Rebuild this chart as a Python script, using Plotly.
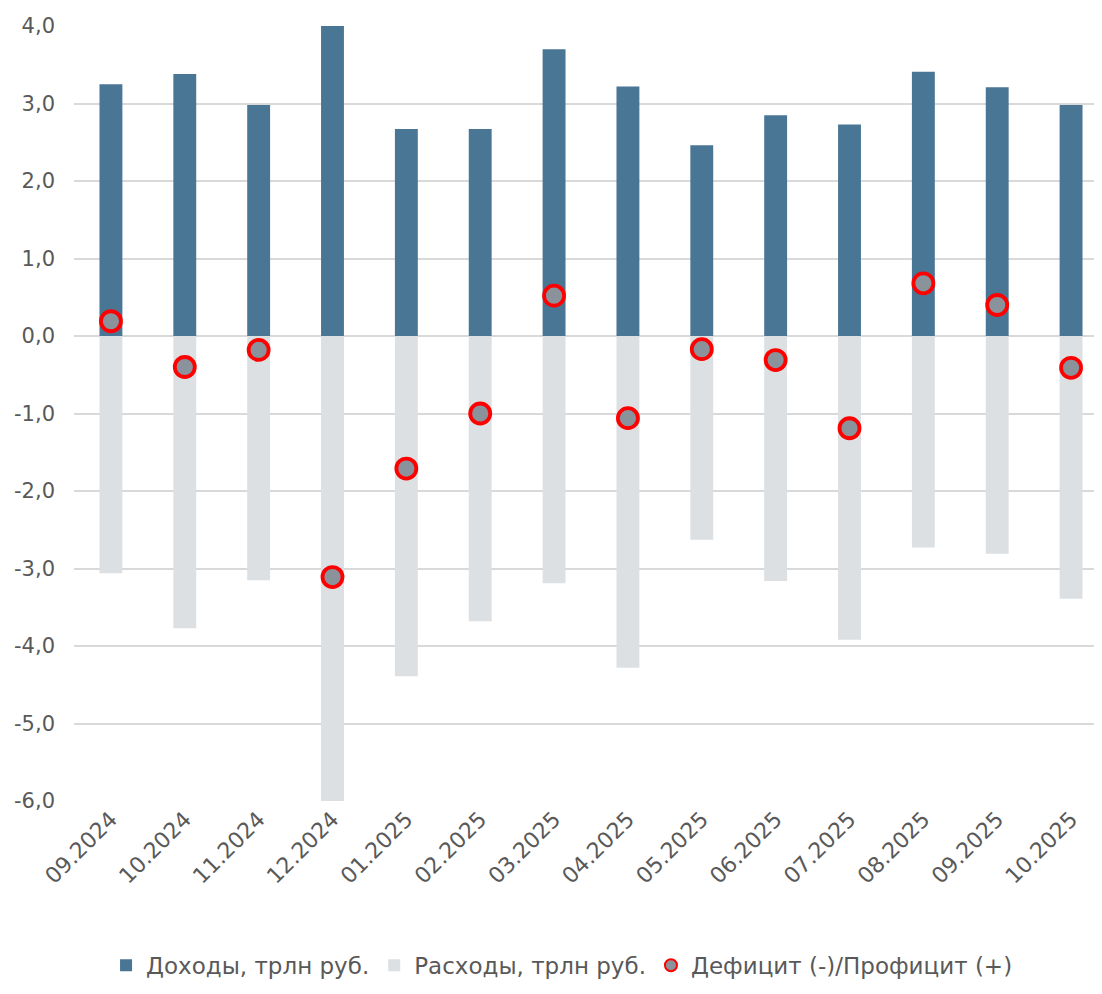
import plotly.graph_objects as go

months = ["09.2024", "10.2024", "11.2024", "12.2024", "01.2025", "02.2025", "03.2025",
          "04.2025", "05.2025", "06.2025", "07.2025", "08.2025", "09.2025", "10.2025"]
income = [3.25, 3.38, 2.98, 4.00, 2.67, 2.67, 3.70, 3.22, 2.46, 2.85, 2.73, 3.41, 3.21, 2.98]
expenses = [-3.06, -3.77, -3.15, -6.04, -4.39, -3.68, -3.19, -4.28, -2.63, -3.16, -3.92, -2.73, -2.81, -3.39]
balance = [0.19, -0.40, -0.18, -3.11, -1.71, -1.00, 0.52, -1.06, -0.17, -0.31, -1.19, 0.68, 0.40, -0.41]
y_ticks = [4, 3, 2, 1, 0, -1, -2, -3, -4, -5, -6]
y_tick_labels = ["4,0", "3,0", "2,0", "1,0", "0,0", "-1,0", "-2,0", "-3,0", "-4,0", "-5,0", "-6,0"]

font_family = "DejaVu Sans, sans-serif"
text_color = "#595959"

fig = go.Figure()
fig.add_trace(go.Bar(x=months, y=income, name="Доходы, трлн руб.",
                     marker=dict(color="#4A7696", line=dict(width=0)), width=0.31))
fig.add_trace(go.Bar(x=months, y=expenses, name="Расходы, трлн руб.",
                     marker=dict(color="#DCE0E3", line=dict(width=0)), width=0.31))
fig.add_trace(go.Scatter(x=months, y=balance, name="Дефицит (-)/Профицит (+)", mode="markers",
                         marker=dict(symbol="circle", size=20, color="#8A939C",
                                     line=dict(color="#FF0000", width=3.8))))

fig.update_layout(
    width=1102, height=994,
    barmode="relative",
    paper_bgcolor="white", plot_bgcolor="white",
    margin=dict(l=66, r=2, t=18, b=201),
    font=dict(family=font_family, size=21, color=text_color),
    showlegend=True,
    legend=dict(orientation="h", x=0.472, xanchor="center", y=-0.212, yanchor="middle",
                font=dict(size=23, color=text_color), itemsizing="constant",
                traceorder="normal"),
    xaxis=dict(range=[-0.5, 13.5], tickangle=-45, showgrid=False, zeroline=False,
               showline=False, ticks="", automargin=False,
               tickfont=dict(size=22, color=text_color)),
    yaxis=dict(range=[-6, 4], tickvals=y_ticks, ticktext=y_tick_labels, showgrid=True,
               gridcolor="#D9D9D9", gridwidth=2, zeroline=True, zerolinecolor="#D9D9D9",
               zerolinewidth=2, showline=False, ticks="", automargin=False,
               ticklabelstandoff=18,
               tickfont=dict(size=21, color=text_color)),
)

fig.write_html("out.html")
